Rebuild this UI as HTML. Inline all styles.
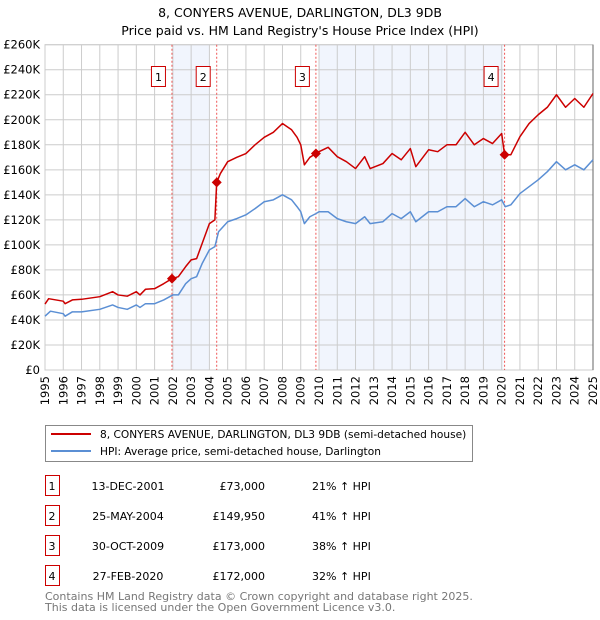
<!DOCTYPE html>
<html><head><meta charset="utf-8"><style>
body{margin:0;background:#fff;}
svg{display:block;font-family:"DejaVu Sans","Liberation Sans",sans-serif;}
</style></head><body>
<svg id="c" width="600" height="620" viewBox="0 0 600 620">
<text x="300" y="17" text-anchor="middle" font-size="12.5">8, CONYERS AVENUE, DARLINGTON, DL3 9DB</text>
<text x="300" y="35" text-anchor="middle" font-size="12.5">Price paid vs. HM Land Registry's House Price Index (HPI)</text>
<g id="plot"></g>
<g>
<rect x="45.5" y="425.5" width="427" height="36" fill="#fff" stroke="#888"/>
<line x1="51" y1="434" x2="91" y2="434" stroke="#cc0000" stroke-width="2"/>
<text x="100" y="438" font-size="10.6">8, CONYERS AVENUE, DARLINGTON, DL3 9DB (semi-detached house)</text>
<line x1="51" y1="451" x2="91" y2="451" stroke="#5b8fd4" stroke-width="2"/>
<text x="100" y="455" font-size="10.6">HPI: Average price, semi-detached house, Darlington</text>
</g>
<g id="table" font-size="11"></g>
<text x="45" y="600" font-size="11" fill="#777">Contains HM Land Registry data © Crown copyright and database right 2025.</text>
<text x="45" y="611" font-size="11" fill="#777">This data is licensed under the Open Government Licence v3.0.</text>
</svg>
<script>
const yTicks=[0,20,40,60,80,100,120,140,160,180,200,220,240,260];
const xYears=[1995,1996,1997,1998,1999,2000,2001,2002,2003,2004,2005,2006,2007,2008,2009,2010,2011,2012,2013,2014,2015,2016,2017,2018,2019,2020,2021,2022,2023,2024,2025];
const redT=[1995,1995.2,1996,1996.1,1996.5,1997,1998,1998.7,1999,1999.5,2000,2000.2,2000.5,2001,2001.5,2001.95,2002.3,2002.7,2003,2003.3,2003.6,2004,2004.3,2004.4,2004.6,2005,2005.5,2006,2006.5,2007,2007.5,2008,2008.5,2008.8,2009,2009.2,2009.5,2009.83,2010,2010.5,2011,2011.5,2012,2012.5,2012.8,2013.5,2014,2014.5,2015,2015.3,2016,2016.5,2017,2017.5,2018,2018.5,2019,2019.5,2020,2020.16,2020.5,2021,2021.5,2022,2022.5,2023,2023.5,2024,2024.5,2025];
const redV=[52.7,57,55,53,56,56.5,58.6,62.6,60,59,62.6,60,64.5,65,69,73,74.6,82.6,88,89,101,117,120,150,157,166.5,170,173,180,186,190,197,192,186,180,164,170,173,174.5,178,170.5,166.5,161,170.5,161,165,173,168,177,162.5,176,174.5,180,180,190,180,185,181,189,172,172,186.5,197,204,210,220,210,217,210,221];
const hpiT=[1995,1995.3,1996,1996.1,1996.5,1997,1998,1998.7,1999,1999.5,2000,2000.2,2000.5,2001,2001.5,2002,2002.3,2002.7,2003,2003.3,2003.6,2004,2004.3,2004.5,2005,2005.5,2006,2006.5,2007,2007.5,2008,2008.5,2008.8,2009,2009.2,2009.5,2009.83,2010,2010.5,2011,2011.5,2012,2012.5,2012.8,2013.5,2014,2014.5,2015,2015.3,2016,2016.5,2017,2017.5,2018,2018.5,2019,2019.5,2020,2020.2,2020.5,2021,2021.5,2022,2022.5,2023,2023.5,2024,2024.5,2025];
const hpiV=[43,47,45,43,46.5,46.5,48.5,52,50,48.5,52,50,53,53,56,60,60,69,73,74.6,85,96,98.6,110.5,118.5,121,124,129,134.5,136,140,136,130.5,126.5,117,122.5,125,126.5,126.5,121,118.5,117,122.5,117,118.5,125,121,126.5,118.5,126.5,126.5,130.5,130.5,137,130.5,134.5,132,136,130.5,132,141,146.5,152,158.5,166.5,160,164,160,168];
const saleLabels=["1","2","3","4"];
const saleT=[2001.95,2004.4,2009.83,2020.16];
const saleV=[73,149.95,173,172];
const saleDates=["13-DEC-2001","25-MAY-2004","30-OCT-2009","27-FEB-2020"];
const salePrices=["£73,000","£149,950","£173,000","£172,000"];
const saleHpi=["21% ↑ HPI","41% ↑ HPI","38% ↑ HPI","32% ↑ HPI"];
const shadeT=[[2002.0,2004.0],[2010.0,2020.1]];

const X0=45,X1=593,Y0=370,Y1=44.7;
const sx=t=>X0+(t-1995)/30*(X1-X0);
const sy=v=>Y0-v/260*(Y0-Y1);
const NS="http://www.w3.org/2000/svg";
const plot=document.getElementById('plot');
function mk(tag,attrs,parent){const e=document.createElementNS(NS,tag);for(const k in attrs)e.setAttribute(k,attrs[k]);(parent||plot).appendChild(e);return e;}
shadeT.forEach(s=>{
 const r=mk('rect',{x:sx(s[0]),y:Y1,width:sx(s[1])-sx(s[0]),height:Y0-Y1,fill:'#eef3fc',opacity:0.8});
 
 
});
yTicks.forEach(v=>{
 const l=mk('line',{x1:X0,x2:X1,y1:sy(v),y2:sy(v),stroke:'#ccc'});
 
 
 const t=mk('text',{x:40,y:sy(v)+4,'text-anchor':'end','font-size':11.5});
 
 
 t.textContent=v===0?'£0':'£'+v+'K';
});
xYears.forEach(y=>{
 const l=mk('line',{x1:sx(y),x2:sx(y),y1:Y1,y2:Y0,stroke:'#ccc'});
 
 
 const t=mk('text',{x:0,y:0,'font-size':11.5,'text-anchor':'end',transform:`translate(${sx(y)+4},${Y0+6}) rotate(-90)`});
 
 
 t.textContent=y;
});
const fr=mk('rect',{x:X0,y:Y1,width:X1-X0,height:Y0-Y1,fill:'none',stroke:'#ccc'});


const rb=mk('line',{x1:X1,x2:X1,y1:Y1,y2:Y0,stroke:'#666'});


saleT.forEach((t,i)=>{
 const l=mk('line',{x1:sx(t),x2:sx(t),y1:Y1,y2:Y0,stroke:'#e55','stroke-dasharray':'2,2'});
 
 
 const r=mk('rect',{x:sx(t)-20.5,y:66.5,width:14,height:20,fill:'#fff',stroke:'#cc0000'});
 
 
 const tx=mk('text',{x:sx(t)-13.5,y:81,'text-anchor':'middle','font-size':11});
 
 
 tx.textContent=saleLabels[i];
});
function line(T,V,col,name){
 const p=mk('polyline',{points:T.map((t,i)=>sx(t)+','+sy(V[i])).join(' '),fill:'none',stroke:col,'stroke-width':1.5,'stroke-linejoin':'round'});
 
 
}
line(hpiT,hpiV,'#5b8fd4','hpi-line');
line(redT,redV,'#cc0000','price-paid-line');
saleT.forEach((t,i)=>{
 const d=mk('path',{d:`M${sx(t)},${sy(saleV[i])-5}l5,5l-5,5l-5,-5z`,fill:'#cc0000'});
 
 
});
const tb=document.getElementById('table');
saleLabels.forEach((s,i)=>{
 const y=476+i*30;
 const r=mk('rect',{x:45.5,y:y-0.5,width:14,height:20,fill:'#fff',stroke:'#cc0000'},tb);
 
 
 const cells=[[52,s,'middle'],[128,saleDates[i],'middle'],[265,salePrices[i],'end'],[312,saleHpi[i],'start']];
 cells.forEach((c,j)=>{
  const t=mk('text',{x:c[0],y:y+14,'text-anchor':c[2]},tb);
  
  
  t.textContent=c[1];
 });
});
</script>
</body></html>
